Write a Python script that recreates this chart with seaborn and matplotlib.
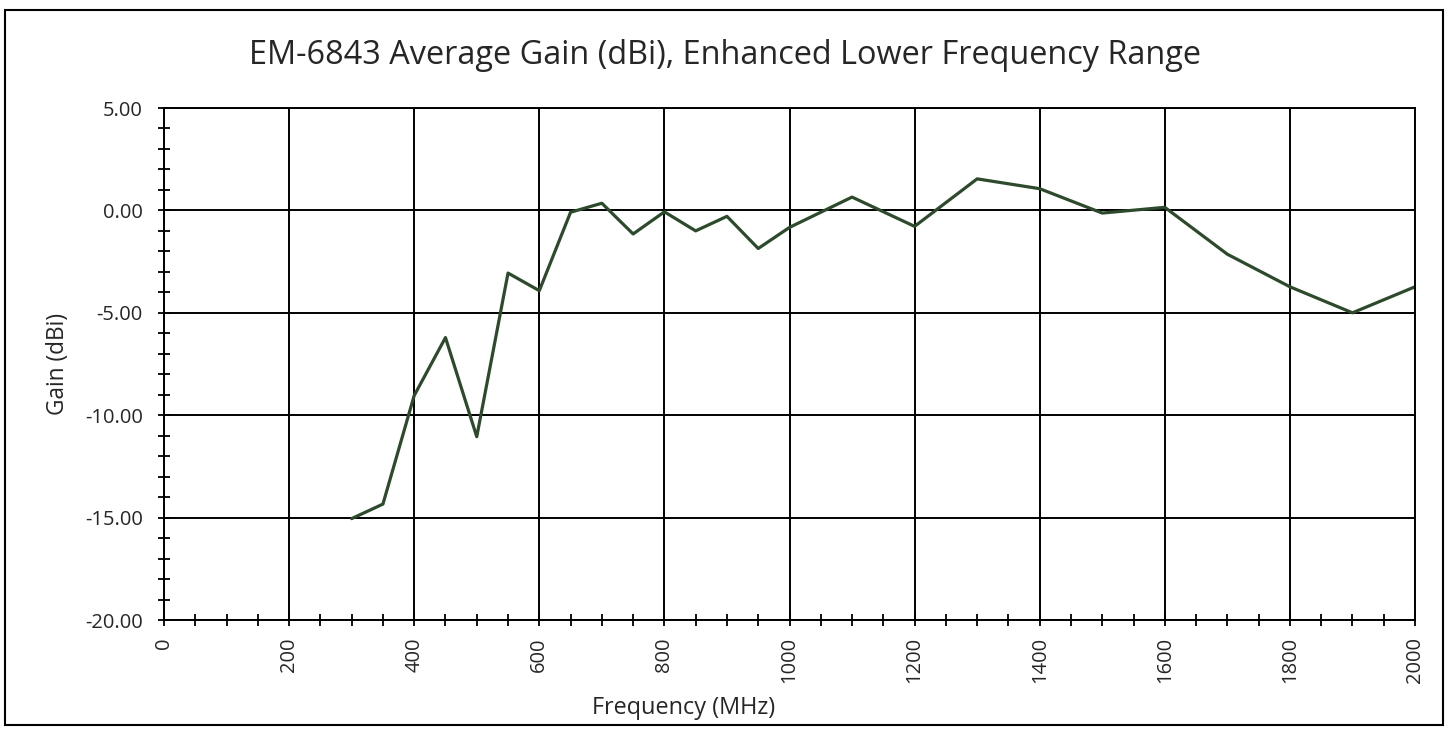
import matplotlib
matplotlib.use("Agg")
import matplotlib.pyplot as plt
import pandas as pd
import seaborn as sns
from matplotlib.patches import Rectangle
from matplotlib.ticker import FormatStrFormatter, MultipleLocator

freq_mhz = [300, 350, 400, 450, 500, 550, 600, 650, 700, 750, 800, 850, 900, 950,
            1000, 1100, 1200, 1300, 1400, 1500, 1600, 1700, 1800, 1900, 2000]
gain_dbi = [-15.05, -14.34, -9.04, -6.21, -11.05, -3.06, -3.92, -0.09, 0.35, -1.15,
            -0.07, -1.0, -0.29, -1.86, -0.83, 0.65, -0.78, 1.54, 1.06, -0.13,
            0.15, -2.14, -3.73, -5.0, -3.73]

title = "EM-6843 Average Gain (dBi), Enhanced Lower Frequency Range"
x_title = "Frequency (MHz)"
y_title = "Gain (dBi)"


def size_for_width(fig, text, width_px, fontsize=10):
    # pick a font size so that the text comes out about width_px wide
    t = fig.text(0, 0, text, fontsize=fontsize)
    w = t.get_window_extent(fig.canvas.get_renderer()).width
    t.remove()
    return fontsize * width_px / w


def main():
    sns.set_style("white")
    plt.rcParams["font.family"] = ["Open Sans", "DejaVu Sans"]
    plt.rcParams["axes.unicode_minus"] = False

    df = pd.DataFrame({"freq": freq_mhz, "gain": gain_dbi})

    W, H = 1449, 732
    fig = plt.figure(figsize=(W / 100, H / 100), dpi=100)
    ax = fig.add_axes([164 / W, 1 - 620 / H, (1415 - 164) / W, (620 - 108) / H])

    sns.lineplot(data=df, x="freq", y="gain", ax=ax, color="#2d4a2c", linewidth=2.3)

    ax.set_xlim(0, 2000)
    ax.set_ylim(-20, 5)
    ax.xaxis.set_major_locator(MultipleLocator(200))
    ax.xaxis.set_minor_locator(MultipleLocator(50))
    ax.yaxis.set_major_locator(MultipleLocator(5))
    ax.yaxis.set_minor_locator(MultipleLocator(1))
    ax.yaxis.set_major_formatter(FormatStrFormatter("%.2f"))

    ax.grid(True, which="major", color="black", linewidth=1.4)
    for s in ax.spines.values():
        s.set_color("black")
        s.set_linewidth(1.4)

    ax.tick_params(axis="both", which="both", direction="inout", length=8.5,
                   width=1.3, color="black", left=True, bottom=True)
    ax.tick_params(axis="both", which="major", labelsize=14.5)
    ax.tick_params(axis="x", labelrotation=90, pad=8)
    ax.tick_params(axis="y", pad=11)

    ax.set_xlabel(x_title, fontsize=size_for_width(fig, x_title, 184), va="center")
    ax.xaxis.set_label_coords((684 - 164) / 1251, (620 - 708) / 512)
    ax.set_ylabel(y_title, fontsize=size_for_width(fig, y_title, 102), va="center")
    ax.yaxis.set_label_coords((58 - 164) / 1251, 0.5)

    fig.text(725 / W, 1 - 56 / H, title, ha="center", va="center",
             fontsize=size_for_width(fig, title, 955))

    fig.patches.append(Rectangle((5 / W, 1 - 725 / H), (1443 - 5) / W, (725 - 10) / H,
                                 transform=fig.transFigure, fill=False,
                                 edgecolor="black", linewidth=1.5))

    fig.savefig("out.png", dpi=100)


if __name__ == "__main__":
    main()
